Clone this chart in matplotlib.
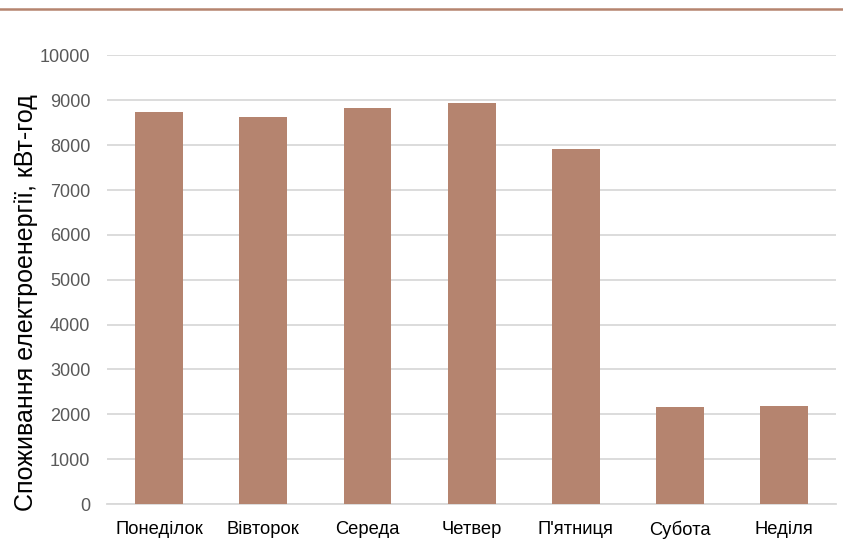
import matplotlib
matplotlib.use("Agg")
import matplotlib.pyplot as plt
from matplotlib.lines import Line2D

days = ["Понеділок", "Вівторок", "Середа", "Четвер", "П'ятниця", "Субота", "Неділя"]
consumption = [8740, 8620, 8840, 8950, 7920, 2160, 2175]
y_ticks = [0, 1000, 2000, 3000, 4000, 5000, 6000, 7000, 8000, 9000, 10000]

bar_color = "#b5846f"
grid_color = "#d9d9d9"

plt.rcParams["font.family"] = ["Liberation Sans", "DejaVu Sans"]

fig = plt.figure(figsize=(8.43, 5.5), dpi=100)
ax = fig.add_axes([0.127, 0.0836, 0.865, 0.8155])

ax.bar(range(len(days)), consumption, width=0.46, color=bar_color, zorder=3)

ax.set_xlim(-0.5, len(days) - 0.5)
ax.set_ylim(0, 10000)
ax.set_yticks(y_ticks)
ax.set_yticklabels([str(v) for v in y_ticks], color="#595959", fontsize=13)
ax.set_xticks(range(len(days)))
ax.set_xticklabels(days, fontsize=13.2, color="#000000")

ax.yaxis.grid(True, color=grid_color, linewidth=1.3, zorder=0)
ax.set_axisbelow(True)
for side in ("top", "right", "left"):
    ax.spines[side].set_visible(False)
ax.spines["bottom"].set_color(grid_color)
ax.spines["bottom"].set_linewidth(1.3)
ax.tick_params(axis="both", length=0)
ax.tick_params(axis="y", pad=12)
ax.tick_params(axis="x", pad=12)

ax.set_ylabel("Споживання електроенергії, кВт-год", fontsize=18, color="#000000")
ax.yaxis.set_label_coords(-0.0947, 0.45)

# decorative rule along the top edge
fig.add_artist(Line2D([0, 1], [1 - 8.5 / 550, 1 - 8.5 / 550], transform=fig.transFigure,
                      color=bar_color, linewidth=1.8))

fig.savefig("out.png", dpi=100)
